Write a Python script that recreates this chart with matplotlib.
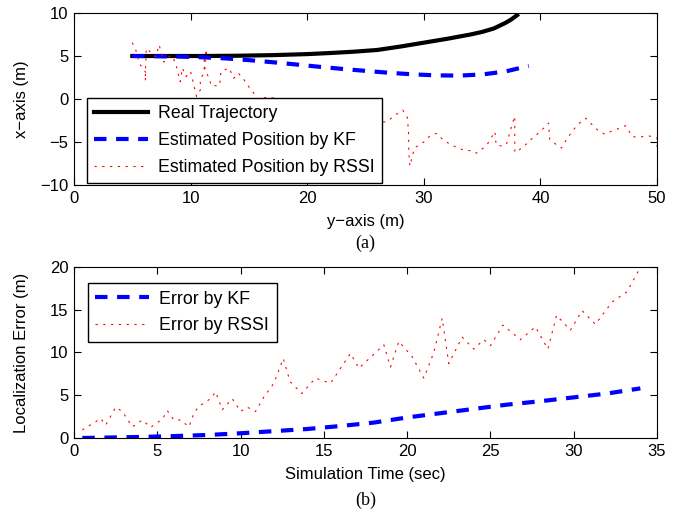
import numpy as np
import matplotlib.pyplot as plt

# ---- (a) trajectory data: horizontal = y-axis (m), vertical = x-axis (m)
real_h = [5, 8, 11, 14, 17, 20, 22, 24, 26, 28, 30, 32, 34, 35, 36, 37, 37.5, 38]
real_v = [5.0, 5.0, 5.0, 5.03, 5.1, 5.22, 5.35, 5.5, 5.7, 6.1, 6.55, 7.0, 7.5,
          7.8, 8.2, 8.85, 9.25, 9.75]

kf_h = [5, 7, 9, 11, 13, 15, 17, 19, 21, 23, 25, 27, 29, 31, 33, 35, 37, 39]
kf_v = [5.0, 4.97, 4.93, 4.85, 4.72, 4.52, 4.28, 4.02, 3.75, 3.5, 3.27, 3.05,
        2.87, 2.75, 2.72, 2.85, 3.2, 3.85]

rssi_h = [5.0, 5.3, 5.6, 6.2, 6.1, 6.2, 7.0, 7.3, 7.7, 8.3, 8.7, 9.1, 9.3, 9.6,
          10.0, 10.5, 10.9, 10.8, 11.1, 11.4, 11.1, 11.8, 12.5, 12.6, 13.3, 13.7,
          14.1, 14.6, 15.0, 15.4, 15.8, 16.5, 17.3, 18.5, 20.0, 21.5, 23.0, 24.5,
          26.0, 26.9, 27.5, 28.2, 28.6, 28.7, 28.7, 28.8, 29.2, 29.6, 30.0, 30.6,
          31.1, 31.7, 32.2, 32.9, 33.6, 34.2, 34.5, 35.1, 35.5, 36.1, 36.2, 36.8,
          37.1, 37.4, 37.6, 37.8, 37.8, 37.8, 38.2, 38.7, 39.2, 39.8, 40.2, 40.7,
          40.8, 41.4, 41.8, 42.2, 42.6, 43.0, 43.5, 43.9, 44.4, 44.9, 45.5, 46.0,
          46.6, 47.3, 47.9, 48.6, 49.3, 50.0, 50.0]
rssi_v = [6.55, 5.7, 4.15, 3.0, 2.1, 5.9, 4.9, 6.3, 4.3, 5.1, 4.3, 2.0, 3.6, 2.6,
          3.2, 0.3, 1.2, 2.2, 2.9, 5.8, 4.1, 1.5, 1.6, 3.2, 3.6, 2.4,
          3.0, 2.2, 1.4, 0.7, -0.1, 0.2, 0.1, -1.0, -1.5, -2.0, -2.5, -3.0,
          -2.8, -2.6, -1.9, -1.3, -2.2, -4.2, -5.9, -7.8, -5.7, -5.35, -5.0, -4.2,
          -4.0, -4.8, -5.2, -5.7, -6.0, -6.0, -6.3, -5.7, -5.15, -3.8, -5.35, -5.5,
          -5.2, -3.8, -2.8, -2.0, -4.2, -6.2, -5.9, -5.35, -4.7, -4.0, -3.5, -2.8,
          -4.7, -5.35, -5.7, -4.8, -4.0, -3.3, -2.6, -2.25, -2.95, -3.6, -4.1, -3.8,
          -3.5, -3.1, -4.4, -4.4, -4.3, -4.5, -6.2]

# ---- (b) localization error vs time
kf_t = [0.5, 2, 4, 6, 8, 10, 12, 14, 16, 18, 20, 22, 24, 26, 28, 30, 32, 34]
kf_err = [0.0, 0.05, 0.12, 0.22, 0.35, 0.55, 0.8, 1.05, 1.4, 1.8, 2.4, 2.9,
          3.4, 3.9, 4.3, 4.75, 5.2, 5.8]

rssi_t = [0.5, 1.3, 1.6, 1.9, 2.5, 2.9, 3.5, 4.1, 4.6, 5.3, 5.6, 6.0, 6.4, 6.9,
          7.2, 7.5, 8.2, 8.5, 8.9, 9.5, 10.0, 10.4, 10.9, 11.4, 12.0, 12.56,
          12.97, 13.67, 14.5, 15.4, 16.6, 17.1, 18.6, 19.0, 19.5, 20.3, 21.0,
          21.6, 22.1, 22.5, 23.3, 24.0, 24.6, 25.0, 25.75, 26.8, 27.7, 28.45,
          28.97, 29.8, 30.5, 31.3, 32.3, 33.2, 33.9, 34.0]
rssi_err = [0.94, 1.9, 2.3, 1.5, 3.6, 3.1, 1.3, 2.1, 1.25, 2.2, 3.2, 2.1, 2.1, 1.3,
            2.9, 3.7, 4.6, 5.4, 3.3, 4.6, 3.1, 3.6, 3.1, 4.8, 6.4, 9.3,
            6.6, 5.2, 7.0, 6.4, 9.9, 8.15, 10.9, 8.3, 11.3, 9.5, 7.0,
            10.0, 14.0, 8.7, 11.8, 10.4, 11.5, 10.8, 13.2, 11.5, 13.0, 10.4,
            14.35, 12.6, 14.9, 13.3, 15.9, 17.1, 19.6, 20.0]

plt.rcParams['font.family'] = ['Liberation Sans', 'DejaVu Sans']
plt.rcParams['font.size'] = 12

fig = plt.figure(figsize=(6.89, 5.16), dpi=100)
ax1 = fig.add_axes([0.1074, 0.6415, 0.8462, 0.3333])
ax2 = fig.add_axes([0.1074, 0.1512, 0.8462, 0.3314])

kf_style = dict(color='blue', lw=3.0, dashes=(3, 2.3))
rssi_style = dict(color='red', lw=0.8, dashes=(2, 5))
leg_style = dict(borderaxespad=0, fancybox=False, edgecolor='black', framealpha=1,
                 handlelength=3.0, handletextpad=0.6, borderpad=0.42,
                 labelspacing=0.55, fontsize=12.8)

ax1.plot(real_h, real_v, color='black', lw=3.0, label='Real Trajectory')
ax1.plot(kf_h, kf_v, label='Estimated Position by KF', **kf_style)
ax1.plot(rssi_h, rssi_v, label='Estimated Position by RSSI', **rssi_style)
ax1.set_xlim(0, 50)
ax1.set_ylim(-10, 10)
ax1.set_xticks(np.arange(0, 51, 10))
ax1.set_yticks(np.arange(-10, 11, 5))
ax1.set_xlabel('y\u2212axis (m)')
ax1.set_ylabel('x\u2212axis (m)')
ax1.xaxis.set_label_coords(0.5, -0.17)
ax1.yaxis.set_label_coords(-0.077, 0.5)
ax1.legend(loc='lower left', bbox_to_anchor=(0.022, 0.01), **leg_style)

ax2.plot(kf_t, kf_err, label='Error by KF', **kf_style)
ax2.plot(rssi_t, rssi_err, label='Error by RSSI', **rssi_style)
ax2.set_xlim(0, 35)
ax2.set_ylim(0, 20)
ax2.set_xticks(np.arange(0, 36, 5))
ax2.set_yticks(np.arange(0, 21, 5))
ax2.set_xlabel('Simulation Time (sec)')
ax2.set_ylabel('Localization Error (m)')
ax2.xaxis.set_label_coords(0.5, -0.17)
ax2.yaxis.set_label_coords(-0.077, 0.5)
ax2.legend(loc='upper left', bbox_to_anchor=(0.024, 0.905), **leg_style)

for ax in (ax1, ax2):
    ax.tick_params(direction='in', top=True, right=True, length=5, width=0.8, pad=4)
    for s in ax.spines.values():
        s.set_linewidth(0.8)

fig.text(0.5305, 1 - 243 / 516, '(a)', ha='center', va='center',
         family='Liberation Serif', fontsize=13)
fig.text(0.5305, 1 - 500 / 516, '(b)', ha='center', va='center',
         family='Liberation Serif', fontsize=13)

fig.savefig('out.png', dpi=100)
